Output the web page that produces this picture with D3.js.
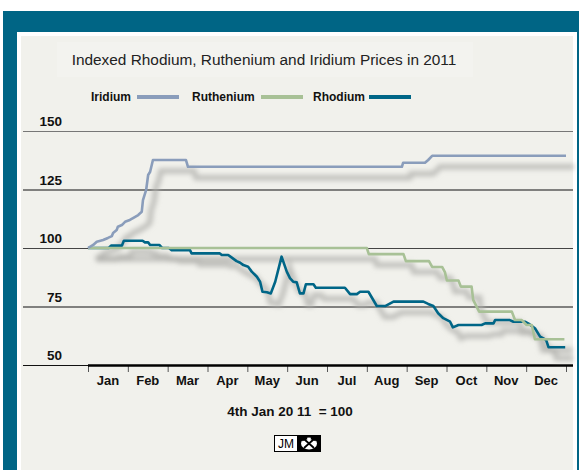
<!DOCTYPE html>
<html lang="en">
<head>
    <meta charset="UTF-8">
    <title>Indexed Rhodium, Ruthenium and Iridium Prices in 2011</title>
    <script src="https://d3js.org/d3.v7.min.js"></script>
    <style>
        body { margin: 0; background: #fff; }
        text { font-family: "Liberation Sans", Arial, sans-serif; }
    </style>
</head>
<body>
    <div id="chart"></div>
    <script>
        // month index (0 = 1st Jan, 12 = end Dec), index value (4th Jan 2011 = 100)
        const months = ["Jan", "Feb", "Mar", "Apr", "May", "Jun", "Jul", "Aug", "Sep", "Oct", "Nov", "Dec"];
        const yTicks = [50, 75, 100, 125, 150];

        const iridium = [
            [0, 100], [0.13, 101.3], [0.22, 102.7], [0.38, 103.4], [0.5, 104.3], [0.6, 105.1],
            [0.63, 106.4], [0.72, 107.7], [0.75, 109.1], [0.85, 109.8], [0.93, 111.2], [1.05, 112],
            [1.13, 112.8], [1.26, 114.1], [1.35, 115.5], [1.38, 120.5], [1.46, 124.8], [1.51, 131.2],
            [1.56, 132.6], [1.63, 137.6], [2.46, 137.6], [2.51, 134.7], [7.88, 134.7], [7.91, 136.4],
            [8.46, 136.4], [8.54, 137.6], [8.64, 139.4], [12, 139.4]
        ];
        const ruthenium = [
            [0, 100], [7.0, 100], [7.05, 97.4], [7.92, 97.4], [7.98, 94.4], [8.56, 94.4],
            [8.64, 91.9], [8.89, 91.9], [8.96, 89.7], [9.01, 86.1], [9.3, 86.1], [9.36, 83.5],
            [9.63, 83.5], [9.67, 77.8], [9.82, 72.8], [10.64, 72.8], [10.72, 69.2], [10.89, 69.2],
            [11.01, 67.1], [11.14, 67.1], [11.22, 61], [11.96, 61]
        ];
        const rhodium = [
            [0, 100], [0.52, 100], [0.58, 101], [0.85, 101], [0.9, 103.1], [1.37, 103.1],
            [1.43, 102.4], [1.51, 102.4], [1.56, 101.3], [1.79, 101.3], [1.86, 100], [2.03, 100],
            [2.1, 99.1], [2.56, 99.1], [2.6, 97.7], [3.31, 97.7], [3.36, 97], [3.52, 97],
            [3.61, 95.9], [3.73, 94.4], [3.82, 93.7], [3.9, 92.7], [4.02, 92], [4.11, 89.9],
            [4.24, 87.7], [4.32, 85.6], [4.38, 81.3], [4.49, 81.1], [4.59, 80.6], [4.7, 85.6],
            [4.86, 96.3], [4.99, 89.9], [5.07, 87.1], [5.15, 85.6], [5.24, 85.3], [5.32, 80.6],
            [5.41, 80.6], [5.47, 84.5], [5.66, 84.5], [5.72, 83], [6.45, 83], [6.58, 80.3],
            [6.75, 80.3], [6.83, 81.3], [7.04, 81.3], [7.25, 75.2], [7.46, 75.2], [7.67, 77.1],
            [8.42, 77.1], [8.54, 76.1], [8.67, 75.2], [8.79, 72.1], [8.92, 70], [9.09, 68.5],
            [9.16, 66.1], [9.3, 67.1], [9.88, 67.1], [9.97, 67.8], [10.18, 67.8], [10.22, 69.2],
            [10.59, 69.2], [10.68, 68.5], [10.97, 68.5], [11.05, 67.8], [11.22, 65.7], [11.35, 62.1],
            [11.5, 60.7], [11.56, 57.6], [11.98, 57.6]
        ];

        const seriesNames = ["Iridium", "Ruthenium", "Rhodium"];
        const seriesData = [iridium, ruthenium, rhodium];
        const colors = ["#8a9dbb", "#a8c196", "#006687"];

        const w = 579;
        const h = 470;

        const xScale = d3.scaleLinear().domain([0, 12]).range([88, 566]);
        const yScale = d3.scaleLinear().domain([50, 150]).range([365, 131]);

        const svg = d3.select("#chart")
            .append("svg")
            .attr("width", w)
            .attr("height", h);

        // frame
        svg.append("rect").attr("x", 3).attr("y", 11).attr("width", w - 3).attr("height", h - 11).attr("fill", "#006585");
        svg.append("rect").attr("x", 17).attr("y", 32).attr("width", 560).attr("height", h - 32).attr("fill", "#fff");
        svg.append("rect").attr("x", 21).attr("y", 36).attr("width", 552).attr("height", h - 36).attr("fill", "#f1f1ec");
        svg.append("rect").attr("x", 57).attr("y", 42).attr("width", 416).attr("height", 35).attr("fill", "#f3f3ef");

        svg.append("text")
            .attr("x", 264)
            .attr("y", 65)
            .attr("text-anchor", "middle")
            .attr("font-size", 15.4)
            .attr("fill", "#222")
            .text("Indexed Rhodium, Ruthenium and Iridium Prices in 2011");

        // legend
        const legendPos = [[91, 137], [192, 261], [313, 369]];
        seriesNames.forEach((name, i) => {
            svg.append("text")
                .attr("x", legendPos[i][0])
                .attr("y", 101)
                .attr("font-size", 12)
                .attr("font-weight", "bold")
                .attr("fill", "#111")
                .text(name);
            svg.append("line")
                .attr("x1", legendPos[i][1])
                .attr("x2", legendPos[i][1] + 42)
                .attr("y1", 97)
                .attr("y2", 97)
                .attr("stroke", colors[i])
                .attr("stroke-width", 4);
        });

        // grid lines + y labels
        const gridColor = { 150: "#777", 125: "#111", 100: "#444", 75: "#111", 50: "#111" };
        svg.selectAll(".grid")
            .data(yTicks)
            .enter()
            .append("line")
            .attr("class", "grid")
            .attr("x1", 23)
            .attr("x2", 573)
            .attr("y1", d => yScale(d) + 0.5)
            .attr("y2", d => yScale(d) + 0.5)
            .attr("stroke", d => gridColor[d])
            .attr("stroke-width", 1.2);

        svg.selectAll(".ylab")
            .data(yTicks)
            .enter()
            .append("text")
            .attr("class", "ylab")
            .attr("x", 62)
            .attr("y", d => yScale(d) - 5)
            .attr("text-anchor", "end")
            .attr("font-size", 13.5)
            .attr("font-weight", "bold")
            .attr("fill", "#111")
            .text(d => d);

        // x axis
        const xAxis = d3.axisBottom(xScale)
            .tickValues(d3.range(0, 13))
            .tickSize(7)
            .tickFormat("");
        const gx = svg.append("g")
            .attr("transform", "translate(0," + 365 + ")")
            .call(xAxis);
        gx.select(".domain").remove();
        gx.selectAll(".tick line").attr("stroke", "#555").attr("stroke-width", 1);
        svg.append("line")
            .attr("x1", 88).attr("x2", 573)
            .attr("y1", 365.5).attr("y2", 365.5)
            .attr("stroke", "#000").attr("stroke-width", 2.5);

        svg.selectAll(".mlab")
            .data(months)
            .enter()
            .append("text")
            .attr("class", "mlab")
            .attr("x", (d, i) => xScale(i + 0.5))
            .attr("y", 385)
            .attr("text-anchor", "middle")
            .attr("font-size", 13)
            .attr("font-weight", "bold")
            .attr("fill", "#111")
            .text(d => d);

        // shadows
        const defs = svg.append("defs");
        defs.append("filter")
            .attr("id", "blur")
            .attr("x", "-10%").attr("y", "-10%").attr("width", "120%").attr("height", "120%")
            .append("feGaussianBlur")
            .attr("stdDeviation", 2.8);

        const line = d3.line()
            .x(d => xScale(d[0]))
            .y(d => yScale(d[1]));

        svg.append("g")
            .attr("transform", "translate(8,11)")
            .attr("filter", "url(#blur)")
            .selectAll("path")
            .data(seriesData)
            .enter()
            .append("path")
            .attr("d", line)
            .attr("fill", "none")
            .attr("stroke", "#b0b0ac")
            .attr("stroke-opacity", 0.75)
            .attr("stroke-width", 5.5);

        // lines: rhodium first, then ruthenium, iridium on top
        [2, 1, 0].forEach(i => {
            svg.append("path")
                .datum(seriesData[i])
                .attr("d", line)
                .attr("fill", "none")
                .attr("stroke", colors[i])
                .attr("stroke-width", 2.6)
                .attr("stroke-linejoin", "round");
        });

        // footnote
        svg.append("text")
            .attr("x", 290)
            .attr("y", 416)
            .attr("text-anchor", "middle")
            .attr("font-size", 13.5)
            .attr("font-weight", "bold")
            .attr("fill", "#111")
            .attr("xml:space", "preserve")
            .style("white-space", "pre")
            .text("4th Jan 20 11  = 100");

        // JM logo
        const logo = svg.append("g").attr("transform", "translate(274,435)");
        logo.append("rect").attr("x", 0.5).attr("y", 0.5).attr("width", 46).attr("height", 16)
            .attr("fill", "#fff").attr("stroke", "#000");
        logo.append("rect").attr("x", 23).attr("y", 0).attr("width", 24).attr("height", 17).attr("fill", "#000");
        logo.append("text").attr("x", 12).attr("y", 13).attr("text-anchor", "middle")
            .attr("font-size", 12).attr("fill", "#000").text("JM");
        logo.append("ellipse").attr("cx", 35).attr("cy", 8.5).attr("rx", 8).attr("ry", 6).attr("fill", "#fff");
        logo.append("path").attr("d", "M30,4 L40,13 M40,4 L30,13")
            .attr("stroke", "#000").attr("stroke-width", 1.8);
        logo.append("path").attr("d", "M28,5 L33,3 M42,5 L37,3")
            .attr("stroke", "#000").attr("stroke-width", 2.5);
    </script>
</body>
</html>
